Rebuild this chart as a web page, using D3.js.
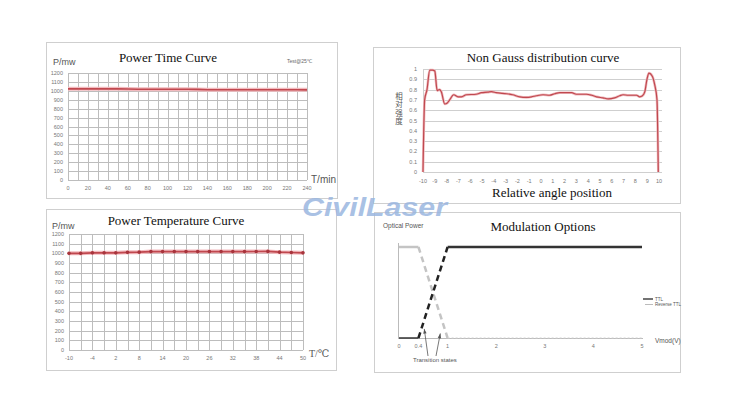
<!DOCTYPE html>
<html><head><meta charset="utf-8">
<script src="https://cdn.jsdelivr.net/npm/d3@7"></script>
<style>body{margin:0;background:#fff}svg{display:block}</style>
</head><body>
<script>
// ---------- DATA ----------
const timeMin = [0,10,20,30,40,50,60,70,80,90,100,110,120,130,140,150,160,170,180,190,200,210,220,230,240];
const timePower = [1022,1022,1022,1022,1022,1022,1021,1017,1017,1017,1017,1017,1017,1016,1012,1012,1012,1012,1012,1012,1012,1012,1012,1012,1011];
const timeTicks = [0,20,40,60,80,100,120,140,160,180,200,220,240];
const powerTicks = [0,100,200,300,400,500,600,700,800,900,1000,1100,1200];

const tempC = [-10,-7,-4,-1,2,5,8,11,14,17,20,23,26,29,32,35,38,41,44,47,50];
const tempPower = [1000,1000,1005,1005,1005,1010,1012,1018,1018,1018,1018,1018,1018,1018,1018,1018,1019,1020,1012,1008,1005];
const tempTicks = [-10,-4,2,8,14,20,26,32,38,44,50];

const angle = [-10,-9.86,-9.66,-9.43,-9.2,-9.0,-8.8,-8.6,-8.45,-8.16,-7.94,-7.74,-7.4,-7.03,-6.75,-6.33,-5.5,-5.05,-4.5,-4.2,-3.8,-2.9,-2.4,-1.8,-1.24,-0.8,-0.4,0.17,0.73,1.16,1.6,2.4,2.6,3.0,3.84,4.3,4.7,5.25,5.7,6.24,6.67,6.95,7.4,8.1,8.36,8.6,8.8,8.98,9.15,9.43,9.63,9.83,9.94];
const intensity = [0,0.7,0.8,0.99,0.99,0.98,0.79,0.8,0.78,0.66,0.67,0.7,0.75,0.73,0.73,0.75,0.755,0.77,0.775,0.78,0.77,0.76,0.75,0.73,0.725,0.73,0.74,0.75,0.745,0.76,0.77,0.77,0.77,0.755,0.755,0.745,0.73,0.72,0.71,0.72,0.74,0.75,0.745,0.745,0.73,0.74,0.78,0.9,0.96,0.93,0.85,0.7,0];
const angleTicks = d3.range(-10,11);
const intensityTicks = [0,0.1,0.2,0.3,0.4,0.5,0.6,0.7,0.8,0.9,1];
const intensityLabel = "相对强度";

const vmod = [0,0.4,1,5];
const ttl = [0,0,1,1];
const reverseTtl = [1,1,0,0];
const vmodTicks = [0,0.4,1,2,3,4,5];
const vmodLabels = ["0","0.4","1","2","3","4","5"];

// ---------- SVG ----------
const svg = d3.select("body").append("svg").attr("width",746).attr("height",416);
svg.append("rect").attr("width",746).attr("height",416).attr("fill","#fff");

const serif = "'Liberation Serif','DejaVu Serif',serif";
const sans = "'Liberation Sans','DejaVu Sans',sans-serif";
const red = "#c0484f";

function box(x,y,w,h){
  svg.append("rect").attr("x",x+0.5).attr("y",y+0.5).attr("width",w).attr("height",h)
    .attr("fill","#fff").attr("stroke","#cfcfcf");
}
function txt(x,y,s,size,opts={}){
  return svg.append("text").attr("x",x).attr("y",y).text(s)
    .attr("font-family",opts.family||sans).attr("font-size",size)
    .attr("fill",opts.fill||"#444").attr("text-anchor",opts.anchor||"start");
}

// Grid chart (panels 1 and 2)
function gridChart(cfg){
  const x = d3.scaleLinear().domain(cfg.xDomain).range([cfg.x0,cfg.x1]);
  const y = d3.scaleLinear().domain([0,1200]).range([cfg.yb,cfg.yt]);
  const g = svg.append("g");
  g.selectAll(".vg").data(cfg.vGrid).join("line")
    .attr("x1",d=>Math.round(x(d))+0.5).attr("x2",d=>Math.round(x(d))+0.5)
    .attr("y1",cfg.yt).attr("y2",cfg.yb).attr("stroke","#bdbdbd").attr("stroke-width",1);
  g.selectAll(".hg").data(powerTicks).join("line")
    .attr("x1",cfg.x0).attr("x2",cfg.x1)
    .attr("y1",d=>Math.round(y(d))+0.5).attr("y2",d=>Math.round(y(d))+0.5)
    .attr("stroke","#bdbdbd").attr("stroke-width",1);
  g.selectAll(".yl").data(powerTicks).join("text")
    .attr("x",cfg.x0-5).attr("y",d=>y(d)+2).text(d=>d)
    .attr("font-family",sans).attr("font-size",5.5).attr("fill","#777").attr("text-anchor","end");
  g.selectAll(".xl").data(cfg.xTicks).join("text")
    .attr("x",d=>x(d)).attr("y",cfg.yb+10).text(d=>d)
    .attr("font-family",sans).attr("font-size",5.5).attr("fill","#777").attr("text-anchor","middle");
  const line = d3.line().x((d,i)=>x(cfg.xs[i])).y(d=>y(d));
  g.append("path").datum(cfg.ys).attr("d",line).attr("fill","none").attr("stroke","#f2b9bd").attr("stroke-width",4);
  g.append("path").datum(cfg.ys).attr("d",line).attr("fill","none").attr("stroke",red).attr("stroke-width",1.6);
  if(cfg.markers){
    g.selectAll(".mk").data(cfg.ys).join("circle")
      .attr("cx",(d,i)=>x(cfg.xs[i])).attr("cy",d=>y(d)).attr("r",1.8).attr("fill","#a8343c");
  }
}

// Panel 1
box(46,42,291,156);
gridChart({x0:68,x1:307,yt:73,yb:180,xDomain:[0,240],vGrid:d3.range(0,241,10),xTicks:timeTicks,xs:timeMin,ys:timePower,markers:false});
txt(168,62,"Power Time Curve",13,{family:serif,anchor:"middle",fill:"#111"});
txt(53,65,"P/mw",9,{fill:"#555"});
txt(287,63,"Test@25℃",5,{fill:"#666"});
txt(311,183,"T/min",10,{fill:"#555"});

// Panel 2
box(46,209,290,161);
gridChart({x0:69,x1:303,yt:234,yb:350,xDomain:[-10,50],vGrid:d3.range(-10,51,3),xTicks:tempTicks,xs:tempC,ys:tempPower,markers:true});
txt(176,225,"Power Temperature Curve",13,{family:serif,anchor:"middle",fill:"#111"});
txt(52,229,"P/mw",9,{fill:"#555"});
txt(309,357,"T/℃",10,{family:serif,fill:"#555"});

// Panel 3
box(373,47,307,156);
{
  const x = d3.scaleLinear().domain([-10,10]).range([423,659]);
  const y = d3.scaleLinear().domain([0,1]).range([172,69]);
  const g = svg.append("g");
  g.selectAll("line.h").data(intensityTicks).join("line")
    .attr("x1",423).attr("x2",662).attr("y1",d=>Math.round(y(d))+0.5).attr("y2",d=>Math.round(y(d))+0.5)
    .attr("stroke","#cfcfcf");
  g.append("line").attr("x1",423.5).attr("x2",423.5).attr("y1",69).attr("y2",172).attr("stroke","#cfcfcf");
  g.selectAll("text.y").data(intensityTicks).join("text")
    .attr("x",417).attr("y",d=>y(d)+2).text(d=>d)
    .attr("font-family",sans).attr("font-size",5.5).attr("fill","#777").attr("text-anchor","end");
  g.selectAll("text.x").data(angleTicks).join("text")
    .attr("x",d=>x(d)).attr("y",183).text(d=>d)
    .attr("font-family",sans).attr("font-size",5.5).attr("fill","#777").attr("text-anchor","middle");
  const line = d3.line().x((d,i)=>x(angle[i])).y(d=>y(d)).curve(d3.curveMonotoneX);
  g.append("path").datum(intensity).attr("d",line).attr("fill","none").attr("stroke","#eeb8bc").attr("stroke-width",2.6);
  g.append("path").datum(intensity).attr("d",line).attr("fill","none").attr("stroke",red).attr("stroke-width",1.2);
  g.append("text").attr("x",399).attr("y",92).text(intensityLabel)
    .attr("writing-mode","vertical-rl").style("writing-mode","vertical-rl")
    .attr("font-family","'Noto Sans CJK SC','Noto Sans CJK JP',sans-serif")
    .attr("font-size",7.5).attr("letter-spacing",1).attr("fill","#555");
  txt(543,62,"Non Gauss distribution curve",13,{family:serif,anchor:"middle",fill:"#111"});
  txt(552,197,"Relative angle position",13,{family:serif,anchor:"middle",fill:"#111"});
}

// Panel 4
box(374,212,306,160);
{
  const x = d3.scaleLinear().domain([0,5]).range([399,642]);
  const y = d3.scaleLinear().domain([0,1]).range([338,247]);
  const g = svg.append("g");
  g.append("line").attr("x1",398.5).attr("x2",398.5).attr("y1",243).attr("y2",338).attr("stroke","#bbb");
  g.append("line").attr("x1",398).attr("x2",643).attr("y1",338.5).attr("y2",338.5).attr("stroke","#bbb");
  g.selectAll("text.x").data(vmodTicks).join("text")
    .attr("x",d=>x(d)).attr("y",348).text((d,i)=>vmodLabels[i])
    .attr("font-family",sans).attr("font-size",5.5).attr("fill","#777").attr("text-anchor","middle");
  const seg = (arr,i0,i1)=>d3.range(i0,i1+1).map(i=>[x(vmod[i]),y(arr[i])]);
  const ln = d3.line();
  // reverse TTL (light)
  g.append("path").attr("d",ln(seg(reverseTtl,0,1))).attr("stroke","#c4c4c4").attr("stroke-width",2.5).attr("fill","none");
  g.append("path").attr("d",ln(seg(reverseTtl,1,2))).attr("stroke","#c4c4c4").attr("stroke-width",2.5).attr("fill","none").attr("stroke-dasharray","6,4");
  g.append("path").attr("d",ln(seg(reverseTtl,2,3))).attr("stroke","#d0d0d0").attr("stroke-width",1).attr("fill","none").attr("stroke-dasharray","2,2");
  // TTL (dark)
  g.append("path").attr("d",ln(seg(ttl,0,1))).attr("stroke","#333").attr("stroke-width",1.5).attr("fill","none");
  g.append("path").attr("d",ln(seg(ttl,1,2))).attr("stroke","#222").attr("stroke-width",2.5).attr("fill","none").attr("stroke-dasharray","6,4");
  g.append("path").attr("d",ln(seg(ttl,2,3))).attr("stroke","#333").attr("stroke-width",2.5).attr("fill","none");
  // transition annotations
  const arrow = (xa,ya,xb,yb)=>{
    g.append("line").attr("x1",xa).attr("y1",ya).attr("x2",xb).attr("y2",yb).attr("stroke","#555").attr("stroke-width",0.8);
    const ang = Math.atan2(yb-ya,xb-xa);
    const p = [[xb,yb],[xb-5*Math.cos(ang-0.35),yb-5*Math.sin(ang-0.35)],[xb-5*Math.cos(ang+0.35),yb-5*Math.sin(ang+0.35)]];
    g.append("path").attr("d",d3.line()(p)+"Z").attr("fill","#555");
  };
  arrow(428,356,x(0.52),y(0.1));
  arrow(436,356,x(0.85),y(0.05));
  txt(413,362,"Transition  states",6,{fill:"#555"});
  txt(383,228,"Optical  Power",6.5,{fill:"#555"});
  txt(655,343,"Vmod(V)",6.5,{fill:"#555"});
  txt(543,231,"Modulation Options",13,{family:serif,anchor:"middle",fill:"#111"});
  g.append("line").attr("x1",643).attr("x2",653).attr("y1",299).attr("y2",299).attr("stroke","#444").attr("stroke-width",1.5);
  g.append("line").attr("x1",645).attr("x2",653).attr("y1",304.5).attr("y2",304.5).attr("stroke","#bbb").attr("stroke-width",1);
  txt(655,301,"TTL",4.5,{fill:"#555"});
  txt(655,306,"Reverse TTL",4.5,{fill:"#555"});
}

// watermark
svg.append("text").attr("x",302).attr("y",216).text("CivilLaser")
  .attr("font-family",sans).attr("font-weight","bold").attr("font-style","italic")
  .attr("font-size",25).attr("textLength",145).attr("lengthAdjust","spacingAndGlyphs")
  .attr("fill","#9ab6df").attr("fill-opacity",0.85);
</script>
</body></html>
